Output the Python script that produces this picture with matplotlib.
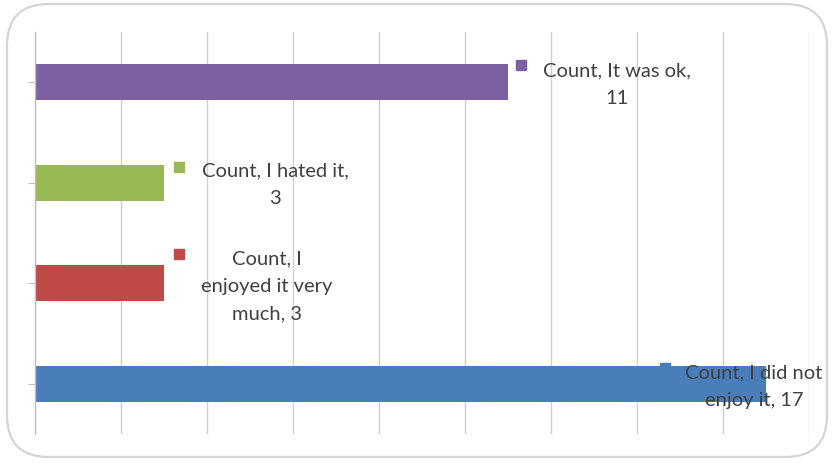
import matplotlib
matplotlib.use("Agg")
import matplotlib.pyplot as plt
import matplotlib.transforms as mtransforms
from matplotlib.patches import FancyBboxPatch

# Survey responses (bottom to top)
categories = ["I did not enjoy it", "I enjoyed it very much", "I hated it", "It was ok"]
counts = [17, 3, 3, 11]
colors = ["#4A7EBB", "#BE4B48", "#98B954", "#7D60A0"]
label_texts = [
    "Count, I did not\nenjoy it, 17",
    "Count, I\nenjoyed it very\nmuch, 3",
    "Count, I hated it,\n3",
    "Count, It was ok,\n11",
]
# label placement relative to the bar end: (marker dx, marker dy, text dx, text dy) in pixels
label_offsets = [
    (-101, 16, -12, 20),
    (15, 29, 103, 34),
    (15, 16, 111, 21),
    (13, 17, 109, 21),
]

plt.rcParams["font.family"] = ["Lato", "DejaVu Sans"]

fig = plt.figure(figsize=(8.34, 4.64), dpi=100)
fig.patch.set_facecolor("white")

# rounded chart-area frame
frame = FancyBboxPatch((7 / 834, 6 / 464), 820 / 834, 453 / 464,
                       boxstyle="round,pad=0,rounding_size=0.05",
                       transform=fig.transFigure, facecolor="white",
                       edgecolor="#D4D4D4", linewidth=1.6, zorder=-1,
                       mutation_aspect=834 / 464)
fig.patches.append(frame)

ax = fig.add_axes([35 / 834, 1 - 435 / 464, (809 - 35) / 834, (435 - 33) / 464])
ax.set_zorder(2)
ax.set_facecolor("none")

y = list(range(len(categories)))
ax.barh(y, counts, height=0.36, color=colors, zorder=2)

ax.set_xlim(0, 18)
ax.set_ylim(-0.5, 3.5)
ax.set_xticks(range(0, 19, 2))
ax.set_xticklabels([])
ax.set_yticks(y)
ax.set_yticklabels([])
ax.tick_params(axis="x", length=0)
ax.tick_params(axis="y", length=5, color="#BFBFBF", direction="out")
ax.grid(axis="x", color="#CFCFCF", linewidth=1.0, zorder=0)
ax.set_axisbelow(True)
for s in ["top", "right", "bottom"]:
    ax.spines[s].set_visible(False)
ax.spines["left"].set_color("#BFBFBF")
ax.spines["left"].set_linewidth(1.0)

for yi, v, c, txt, (mdx, mdy, tdx, tdy) in zip(y, counts, colors, label_texts, label_offsets):
    shift = mtransforms.ScaledTranslation(mdx / 100, mdy / 100, fig.dpi_scale_trans)
    ax.plot([v], [yi], marker="s", markersize=7, color=c, linestyle="none",
            transform=ax.transData + shift, clip_on=False, zorder=3)
    ax.annotate(txt, xy=(v, yi), xytext=(tdx, tdy), textcoords="offset pixels",
                ha="center", va="top", fontsize=14.5, color="#404040",
                linespacing=1.75, zorder=4, annotation_clip=False)

fig.savefig("out.png", dpi=100)
